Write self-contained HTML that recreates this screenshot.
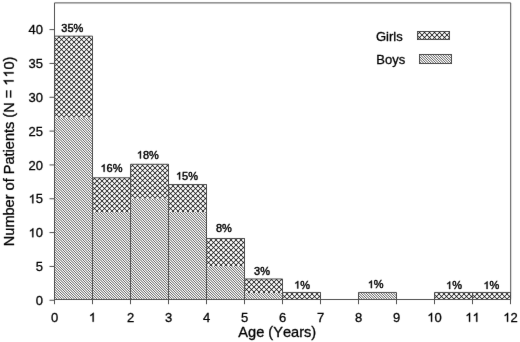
<!DOCTYPE html><html><head><meta charset="utf-8"><style>
html,body{margin:0;padding:0;background:#fff;width:520px;height:342px;overflow:hidden}
svg{display:block}
text{font-family:"Liberation Sans", sans-serif;fill:#000;stroke:#000;stroke-width:0.30px;font-kerning:none}
tspan.h{fill:none;stroke:none}
g.one path{fill:#000;stroke:#000;stroke-width:0.30px;vector-effect:non-scaling-stroke}
</style></head><body>
<svg width="520" height="342" viewBox="0 0 520 342">
<defs>
<pattern id="g0" patternUnits="userSpaceOnUse" width="5" height="5" patternTransform="translate(54,117)"><rect width="5" height="5" fill="#fff"/><rect x="0" y="0" width="1" height="1" fill="#464646"/><rect x="1" y="0" width="1" height="1" fill="#d4d4d4"/><rect x="2" y="0" width="1" height="1" fill="#f8f8f8"/><rect x="3" y="0" width="1" height="1" fill="#d4d4d4"/><rect x="4" y="0" width="1" height="1" fill="#464646"/><rect x="0" y="1" width="1" height="1" fill="#d4d4d4"/><rect x="1" y="1" width="1" height="1" fill="#5a5a5a"/><rect x="2" y="1" width="1" height="1" fill="#afafaf"/><rect x="3" y="1" width="1" height="1" fill="#5a5a5a"/><rect x="4" y="1" width="1" height="1" fill="#d4d4d4"/><rect x="0" y="2" width="1" height="1" fill="#f8f8f8"/><rect x="1" y="2" width="1" height="1" fill="#afafaf"/><rect x="2" y="2" width="1" height="1" fill="#2d2d2d"/><rect x="3" y="2" width="1" height="1" fill="#afafaf"/><rect x="4" y="2" width="1" height="1" fill="#f8f8f8"/><rect x="0" y="3" width="1" height="1" fill="#d4d4d4"/><rect x="1" y="3" width="1" height="1" fill="#5a5a5a"/><rect x="2" y="3" width="1" height="1" fill="#afafaf"/><rect x="3" y="3" width="1" height="1" fill="#5a5a5a"/><rect x="4" y="3" width="1" height="1" fill="#d4d4d4"/><rect x="0" y="4" width="1" height="1" fill="#464646"/><rect x="1" y="4" width="1" height="1" fill="#d4d4d4"/><rect x="2" y="4" width="1" height="1" fill="#f8f8f8"/><rect x="3" y="4" width="1" height="1" fill="#d4d4d4"/><rect x="4" y="4" width="1" height="1" fill="#464646"/></pattern>
<pattern id="b0" patternUnits="userSpaceOnUse" width="5" height="5" patternTransform="translate(0,2)"><rect width="5" height="5" fill="#fff"/><rect x="0" y="0" width="1" height="1" fill="#767676"/><rect x="1" y="0" width="1" height="1" fill="#f2f2f2"/><rect x="2" y="0" width="1" height="1" fill="#acacac"/><rect x="3" y="0" width="1" height="1" fill="#acacac"/><rect x="4" y="0" width="1" height="1" fill="#f2f2f2"/><rect x="0" y="1" width="1" height="1" fill="#f2f2f2"/><rect x="1" y="1" width="1" height="1" fill="#767676"/><rect x="2" y="1" width="1" height="1" fill="#f2f2f2"/><rect x="3" y="1" width="1" height="1" fill="#acacac"/><rect x="4" y="1" width="1" height="1" fill="#acacac"/><rect x="0" y="2" width="1" height="1" fill="#acacac"/><rect x="1" y="2" width="1" height="1" fill="#f2f2f2"/><rect x="2" y="2" width="1" height="1" fill="#767676"/><rect x="3" y="2" width="1" height="1" fill="#f2f2f2"/><rect x="4" y="2" width="1" height="1" fill="#acacac"/><rect x="0" y="3" width="1" height="1" fill="#acacac"/><rect x="1" y="3" width="1" height="1" fill="#acacac"/><rect x="2" y="3" width="1" height="1" fill="#f2f2f2"/><rect x="3" y="3" width="1" height="1" fill="#767676"/><rect x="4" y="3" width="1" height="1" fill="#f2f2f2"/><rect x="0" y="4" width="1" height="1" fill="#f2f2f2"/><rect x="1" y="4" width="1" height="1" fill="#acacac"/><rect x="2" y="4" width="1" height="1" fill="#acacac"/><rect x="3" y="4" width="1" height="1" fill="#f2f2f2"/><rect x="4" y="4" width="1" height="1" fill="#767676"/></pattern>
<pattern id="g1" patternUnits="userSpaceOnUse" width="5" height="5" patternTransform="translate(92,211)"><rect width="5" height="5" fill="#fff"/><rect x="0" y="0" width="1" height="1" fill="#464646"/><rect x="1" y="0" width="1" height="1" fill="#d4d4d4"/><rect x="2" y="0" width="1" height="1" fill="#f8f8f8"/><rect x="3" y="0" width="1" height="1" fill="#d4d4d4"/><rect x="4" y="0" width="1" height="1" fill="#464646"/><rect x="0" y="1" width="1" height="1" fill="#d4d4d4"/><rect x="1" y="1" width="1" height="1" fill="#5a5a5a"/><rect x="2" y="1" width="1" height="1" fill="#afafaf"/><rect x="3" y="1" width="1" height="1" fill="#5a5a5a"/><rect x="4" y="1" width="1" height="1" fill="#d4d4d4"/><rect x="0" y="2" width="1" height="1" fill="#f8f8f8"/><rect x="1" y="2" width="1" height="1" fill="#afafaf"/><rect x="2" y="2" width="1" height="1" fill="#2d2d2d"/><rect x="3" y="2" width="1" height="1" fill="#afafaf"/><rect x="4" y="2" width="1" height="1" fill="#f8f8f8"/><rect x="0" y="3" width="1" height="1" fill="#d4d4d4"/><rect x="1" y="3" width="1" height="1" fill="#5a5a5a"/><rect x="2" y="3" width="1" height="1" fill="#afafaf"/><rect x="3" y="3" width="1" height="1" fill="#5a5a5a"/><rect x="4" y="3" width="1" height="1" fill="#d4d4d4"/><rect x="0" y="4" width="1" height="1" fill="#464646"/><rect x="1" y="4" width="1" height="1" fill="#d4d4d4"/><rect x="2" y="4" width="1" height="1" fill="#f8f8f8"/><rect x="3" y="4" width="1" height="1" fill="#d4d4d4"/><rect x="4" y="4" width="1" height="1" fill="#464646"/></pattern>
<pattern id="b1" patternUnits="userSpaceOnUse" width="5" height="5" patternTransform="translate(0,2)"><rect width="5" height="5" fill="#fff"/><rect x="0" y="0" width="1" height="1" fill="#767676"/><rect x="1" y="0" width="1" height="1" fill="#f2f2f2"/><rect x="2" y="0" width="1" height="1" fill="#acacac"/><rect x="3" y="0" width="1" height="1" fill="#acacac"/><rect x="4" y="0" width="1" height="1" fill="#f2f2f2"/><rect x="0" y="1" width="1" height="1" fill="#f2f2f2"/><rect x="1" y="1" width="1" height="1" fill="#767676"/><rect x="2" y="1" width="1" height="1" fill="#f2f2f2"/><rect x="3" y="1" width="1" height="1" fill="#acacac"/><rect x="4" y="1" width="1" height="1" fill="#acacac"/><rect x="0" y="2" width="1" height="1" fill="#acacac"/><rect x="1" y="2" width="1" height="1" fill="#f2f2f2"/><rect x="2" y="2" width="1" height="1" fill="#767676"/><rect x="3" y="2" width="1" height="1" fill="#f2f2f2"/><rect x="4" y="2" width="1" height="1" fill="#acacac"/><rect x="0" y="3" width="1" height="1" fill="#acacac"/><rect x="1" y="3" width="1" height="1" fill="#acacac"/><rect x="2" y="3" width="1" height="1" fill="#f2f2f2"/><rect x="3" y="3" width="1" height="1" fill="#767676"/><rect x="4" y="3" width="1" height="1" fill="#f2f2f2"/><rect x="0" y="4" width="1" height="1" fill="#f2f2f2"/><rect x="1" y="4" width="1" height="1" fill="#acacac"/><rect x="2" y="4" width="1" height="1" fill="#acacac"/><rect x="3" y="4" width="1" height="1" fill="#f2f2f2"/><rect x="4" y="4" width="1" height="1" fill="#767676"/></pattern>
<pattern id="g2" patternUnits="userSpaceOnUse" width="5" height="5" patternTransform="translate(130,198)"><rect width="5" height="5" fill="#fff"/><rect x="0" y="0" width="1" height="1" fill="#464646"/><rect x="1" y="0" width="1" height="1" fill="#d4d4d4"/><rect x="2" y="0" width="1" height="1" fill="#f8f8f8"/><rect x="3" y="0" width="1" height="1" fill="#d4d4d4"/><rect x="4" y="0" width="1" height="1" fill="#464646"/><rect x="0" y="1" width="1" height="1" fill="#d4d4d4"/><rect x="1" y="1" width="1" height="1" fill="#5a5a5a"/><rect x="2" y="1" width="1" height="1" fill="#afafaf"/><rect x="3" y="1" width="1" height="1" fill="#5a5a5a"/><rect x="4" y="1" width="1" height="1" fill="#d4d4d4"/><rect x="0" y="2" width="1" height="1" fill="#f8f8f8"/><rect x="1" y="2" width="1" height="1" fill="#afafaf"/><rect x="2" y="2" width="1" height="1" fill="#2d2d2d"/><rect x="3" y="2" width="1" height="1" fill="#afafaf"/><rect x="4" y="2" width="1" height="1" fill="#f8f8f8"/><rect x="0" y="3" width="1" height="1" fill="#d4d4d4"/><rect x="1" y="3" width="1" height="1" fill="#5a5a5a"/><rect x="2" y="3" width="1" height="1" fill="#afafaf"/><rect x="3" y="3" width="1" height="1" fill="#5a5a5a"/><rect x="4" y="3" width="1" height="1" fill="#d4d4d4"/><rect x="0" y="4" width="1" height="1" fill="#464646"/><rect x="1" y="4" width="1" height="1" fill="#d4d4d4"/><rect x="2" y="4" width="1" height="1" fill="#f8f8f8"/><rect x="3" y="4" width="1" height="1" fill="#d4d4d4"/><rect x="4" y="4" width="1" height="1" fill="#464646"/></pattern>
<pattern id="b2" patternUnits="userSpaceOnUse" width="5" height="5" patternTransform="translate(0,2)"><rect width="5" height="5" fill="#fff"/><rect x="0" y="0" width="1" height="1" fill="#767676"/><rect x="1" y="0" width="1" height="1" fill="#f2f2f2"/><rect x="2" y="0" width="1" height="1" fill="#acacac"/><rect x="3" y="0" width="1" height="1" fill="#acacac"/><rect x="4" y="0" width="1" height="1" fill="#f2f2f2"/><rect x="0" y="1" width="1" height="1" fill="#f2f2f2"/><rect x="1" y="1" width="1" height="1" fill="#767676"/><rect x="2" y="1" width="1" height="1" fill="#f2f2f2"/><rect x="3" y="1" width="1" height="1" fill="#acacac"/><rect x="4" y="1" width="1" height="1" fill="#acacac"/><rect x="0" y="2" width="1" height="1" fill="#acacac"/><rect x="1" y="2" width="1" height="1" fill="#f2f2f2"/><rect x="2" y="2" width="1" height="1" fill="#767676"/><rect x="3" y="2" width="1" height="1" fill="#f2f2f2"/><rect x="4" y="2" width="1" height="1" fill="#acacac"/><rect x="0" y="3" width="1" height="1" fill="#acacac"/><rect x="1" y="3" width="1" height="1" fill="#acacac"/><rect x="2" y="3" width="1" height="1" fill="#f2f2f2"/><rect x="3" y="3" width="1" height="1" fill="#767676"/><rect x="4" y="3" width="1" height="1" fill="#f2f2f2"/><rect x="0" y="4" width="1" height="1" fill="#f2f2f2"/><rect x="1" y="4" width="1" height="1" fill="#acacac"/><rect x="2" y="4" width="1" height="1" fill="#acacac"/><rect x="3" y="4" width="1" height="1" fill="#f2f2f2"/><rect x="4" y="4" width="1" height="1" fill="#767676"/></pattern>
<pattern id="g3" patternUnits="userSpaceOnUse" width="5" height="5" patternTransform="translate(168,211)"><rect width="5" height="5" fill="#fff"/><rect x="0" y="0" width="1" height="1" fill="#464646"/><rect x="1" y="0" width="1" height="1" fill="#d4d4d4"/><rect x="2" y="0" width="1" height="1" fill="#f8f8f8"/><rect x="3" y="0" width="1" height="1" fill="#d4d4d4"/><rect x="4" y="0" width="1" height="1" fill="#464646"/><rect x="0" y="1" width="1" height="1" fill="#d4d4d4"/><rect x="1" y="1" width="1" height="1" fill="#5a5a5a"/><rect x="2" y="1" width="1" height="1" fill="#afafaf"/><rect x="3" y="1" width="1" height="1" fill="#5a5a5a"/><rect x="4" y="1" width="1" height="1" fill="#d4d4d4"/><rect x="0" y="2" width="1" height="1" fill="#f8f8f8"/><rect x="1" y="2" width="1" height="1" fill="#afafaf"/><rect x="2" y="2" width="1" height="1" fill="#2d2d2d"/><rect x="3" y="2" width="1" height="1" fill="#afafaf"/><rect x="4" y="2" width="1" height="1" fill="#f8f8f8"/><rect x="0" y="3" width="1" height="1" fill="#d4d4d4"/><rect x="1" y="3" width="1" height="1" fill="#5a5a5a"/><rect x="2" y="3" width="1" height="1" fill="#afafaf"/><rect x="3" y="3" width="1" height="1" fill="#5a5a5a"/><rect x="4" y="3" width="1" height="1" fill="#d4d4d4"/><rect x="0" y="4" width="1" height="1" fill="#464646"/><rect x="1" y="4" width="1" height="1" fill="#d4d4d4"/><rect x="2" y="4" width="1" height="1" fill="#f8f8f8"/><rect x="3" y="4" width="1" height="1" fill="#d4d4d4"/><rect x="4" y="4" width="1" height="1" fill="#464646"/></pattern>
<pattern id="b3" patternUnits="userSpaceOnUse" width="5" height="5" patternTransform="translate(0,2)"><rect width="5" height="5" fill="#fff"/><rect x="0" y="0" width="1" height="1" fill="#767676"/><rect x="1" y="0" width="1" height="1" fill="#f2f2f2"/><rect x="2" y="0" width="1" height="1" fill="#acacac"/><rect x="3" y="0" width="1" height="1" fill="#acacac"/><rect x="4" y="0" width="1" height="1" fill="#f2f2f2"/><rect x="0" y="1" width="1" height="1" fill="#f2f2f2"/><rect x="1" y="1" width="1" height="1" fill="#767676"/><rect x="2" y="1" width="1" height="1" fill="#f2f2f2"/><rect x="3" y="1" width="1" height="1" fill="#acacac"/><rect x="4" y="1" width="1" height="1" fill="#acacac"/><rect x="0" y="2" width="1" height="1" fill="#acacac"/><rect x="1" y="2" width="1" height="1" fill="#f2f2f2"/><rect x="2" y="2" width="1" height="1" fill="#767676"/><rect x="3" y="2" width="1" height="1" fill="#f2f2f2"/><rect x="4" y="2" width="1" height="1" fill="#acacac"/><rect x="0" y="3" width="1" height="1" fill="#acacac"/><rect x="1" y="3" width="1" height="1" fill="#acacac"/><rect x="2" y="3" width="1" height="1" fill="#f2f2f2"/><rect x="3" y="3" width="1" height="1" fill="#767676"/><rect x="4" y="3" width="1" height="1" fill="#f2f2f2"/><rect x="0" y="4" width="1" height="1" fill="#f2f2f2"/><rect x="1" y="4" width="1" height="1" fill="#acacac"/><rect x="2" y="4" width="1" height="1" fill="#acacac"/><rect x="3" y="4" width="1" height="1" fill="#f2f2f2"/><rect x="4" y="4" width="1" height="1" fill="#767676"/></pattern>
<pattern id="g4" patternUnits="userSpaceOnUse" width="5" height="5" patternTransform="translate(206,265)"><rect width="5" height="5" fill="#fff"/><rect x="0" y="0" width="1" height="1" fill="#464646"/><rect x="1" y="0" width="1" height="1" fill="#d4d4d4"/><rect x="2" y="0" width="1" height="1" fill="#f8f8f8"/><rect x="3" y="0" width="1" height="1" fill="#d4d4d4"/><rect x="4" y="0" width="1" height="1" fill="#464646"/><rect x="0" y="1" width="1" height="1" fill="#d4d4d4"/><rect x="1" y="1" width="1" height="1" fill="#5a5a5a"/><rect x="2" y="1" width="1" height="1" fill="#afafaf"/><rect x="3" y="1" width="1" height="1" fill="#5a5a5a"/><rect x="4" y="1" width="1" height="1" fill="#d4d4d4"/><rect x="0" y="2" width="1" height="1" fill="#f8f8f8"/><rect x="1" y="2" width="1" height="1" fill="#afafaf"/><rect x="2" y="2" width="1" height="1" fill="#2d2d2d"/><rect x="3" y="2" width="1" height="1" fill="#afafaf"/><rect x="4" y="2" width="1" height="1" fill="#f8f8f8"/><rect x="0" y="3" width="1" height="1" fill="#d4d4d4"/><rect x="1" y="3" width="1" height="1" fill="#5a5a5a"/><rect x="2" y="3" width="1" height="1" fill="#afafaf"/><rect x="3" y="3" width="1" height="1" fill="#5a5a5a"/><rect x="4" y="3" width="1" height="1" fill="#d4d4d4"/><rect x="0" y="4" width="1" height="1" fill="#464646"/><rect x="1" y="4" width="1" height="1" fill="#d4d4d4"/><rect x="2" y="4" width="1" height="1" fill="#f8f8f8"/><rect x="3" y="4" width="1" height="1" fill="#d4d4d4"/><rect x="4" y="4" width="1" height="1" fill="#464646"/></pattern>
<pattern id="b4" patternUnits="userSpaceOnUse" width="5" height="5" patternTransform="translate(0,2)"><rect width="5" height="5" fill="#fff"/><rect x="0" y="0" width="1" height="1" fill="#767676"/><rect x="1" y="0" width="1" height="1" fill="#f2f2f2"/><rect x="2" y="0" width="1" height="1" fill="#acacac"/><rect x="3" y="0" width="1" height="1" fill="#acacac"/><rect x="4" y="0" width="1" height="1" fill="#f2f2f2"/><rect x="0" y="1" width="1" height="1" fill="#f2f2f2"/><rect x="1" y="1" width="1" height="1" fill="#767676"/><rect x="2" y="1" width="1" height="1" fill="#f2f2f2"/><rect x="3" y="1" width="1" height="1" fill="#acacac"/><rect x="4" y="1" width="1" height="1" fill="#acacac"/><rect x="0" y="2" width="1" height="1" fill="#acacac"/><rect x="1" y="2" width="1" height="1" fill="#f2f2f2"/><rect x="2" y="2" width="1" height="1" fill="#767676"/><rect x="3" y="2" width="1" height="1" fill="#f2f2f2"/><rect x="4" y="2" width="1" height="1" fill="#acacac"/><rect x="0" y="3" width="1" height="1" fill="#acacac"/><rect x="1" y="3" width="1" height="1" fill="#acacac"/><rect x="2" y="3" width="1" height="1" fill="#f2f2f2"/><rect x="3" y="3" width="1" height="1" fill="#767676"/><rect x="4" y="3" width="1" height="1" fill="#f2f2f2"/><rect x="0" y="4" width="1" height="1" fill="#f2f2f2"/><rect x="1" y="4" width="1" height="1" fill="#acacac"/><rect x="2" y="4" width="1" height="1" fill="#acacac"/><rect x="3" y="4" width="1" height="1" fill="#f2f2f2"/><rect x="4" y="4" width="1" height="1" fill="#767676"/></pattern>
<pattern id="g5" patternUnits="userSpaceOnUse" width="5" height="5" patternTransform="translate(244,292)"><rect width="5" height="5" fill="#fff"/><rect x="0" y="0" width="1" height="1" fill="#464646"/><rect x="1" y="0" width="1" height="1" fill="#d4d4d4"/><rect x="2" y="0" width="1" height="1" fill="#f8f8f8"/><rect x="3" y="0" width="1" height="1" fill="#d4d4d4"/><rect x="4" y="0" width="1" height="1" fill="#464646"/><rect x="0" y="1" width="1" height="1" fill="#d4d4d4"/><rect x="1" y="1" width="1" height="1" fill="#5a5a5a"/><rect x="2" y="1" width="1" height="1" fill="#afafaf"/><rect x="3" y="1" width="1" height="1" fill="#5a5a5a"/><rect x="4" y="1" width="1" height="1" fill="#d4d4d4"/><rect x="0" y="2" width="1" height="1" fill="#f8f8f8"/><rect x="1" y="2" width="1" height="1" fill="#afafaf"/><rect x="2" y="2" width="1" height="1" fill="#2d2d2d"/><rect x="3" y="2" width="1" height="1" fill="#afafaf"/><rect x="4" y="2" width="1" height="1" fill="#f8f8f8"/><rect x="0" y="3" width="1" height="1" fill="#d4d4d4"/><rect x="1" y="3" width="1" height="1" fill="#5a5a5a"/><rect x="2" y="3" width="1" height="1" fill="#afafaf"/><rect x="3" y="3" width="1" height="1" fill="#5a5a5a"/><rect x="4" y="3" width="1" height="1" fill="#d4d4d4"/><rect x="0" y="4" width="1" height="1" fill="#464646"/><rect x="1" y="4" width="1" height="1" fill="#d4d4d4"/><rect x="2" y="4" width="1" height="1" fill="#f8f8f8"/><rect x="3" y="4" width="1" height="1" fill="#d4d4d4"/><rect x="4" y="4" width="1" height="1" fill="#464646"/></pattern>
<pattern id="b5" patternUnits="userSpaceOnUse" width="5" height="5" patternTransform="translate(0,2)"><rect width="5" height="5" fill="#fff"/><rect x="0" y="0" width="1" height="1" fill="#767676"/><rect x="1" y="0" width="1" height="1" fill="#f2f2f2"/><rect x="2" y="0" width="1" height="1" fill="#acacac"/><rect x="3" y="0" width="1" height="1" fill="#acacac"/><rect x="4" y="0" width="1" height="1" fill="#f2f2f2"/><rect x="0" y="1" width="1" height="1" fill="#f2f2f2"/><rect x="1" y="1" width="1" height="1" fill="#767676"/><rect x="2" y="1" width="1" height="1" fill="#f2f2f2"/><rect x="3" y="1" width="1" height="1" fill="#acacac"/><rect x="4" y="1" width="1" height="1" fill="#acacac"/><rect x="0" y="2" width="1" height="1" fill="#acacac"/><rect x="1" y="2" width="1" height="1" fill="#f2f2f2"/><rect x="2" y="2" width="1" height="1" fill="#767676"/><rect x="3" y="2" width="1" height="1" fill="#f2f2f2"/><rect x="4" y="2" width="1" height="1" fill="#acacac"/><rect x="0" y="3" width="1" height="1" fill="#acacac"/><rect x="1" y="3" width="1" height="1" fill="#acacac"/><rect x="2" y="3" width="1" height="1" fill="#f2f2f2"/><rect x="3" y="3" width="1" height="1" fill="#767676"/><rect x="4" y="3" width="1" height="1" fill="#f2f2f2"/><rect x="0" y="4" width="1" height="1" fill="#f2f2f2"/><rect x="1" y="4" width="1" height="1" fill="#acacac"/><rect x="2" y="4" width="1" height="1" fill="#acacac"/><rect x="3" y="4" width="1" height="1" fill="#f2f2f2"/><rect x="4" y="4" width="1" height="1" fill="#767676"/></pattern>
<pattern id="g6" patternUnits="userSpaceOnUse" width="5" height="5" patternTransform="translate(282,299)"><rect width="5" height="5" fill="#fff"/><rect x="0" y="0" width="1" height="1" fill="#464646"/><rect x="1" y="0" width="1" height="1" fill="#d4d4d4"/><rect x="2" y="0" width="1" height="1" fill="#f8f8f8"/><rect x="3" y="0" width="1" height="1" fill="#d4d4d4"/><rect x="4" y="0" width="1" height="1" fill="#464646"/><rect x="0" y="1" width="1" height="1" fill="#d4d4d4"/><rect x="1" y="1" width="1" height="1" fill="#5a5a5a"/><rect x="2" y="1" width="1" height="1" fill="#afafaf"/><rect x="3" y="1" width="1" height="1" fill="#5a5a5a"/><rect x="4" y="1" width="1" height="1" fill="#d4d4d4"/><rect x="0" y="2" width="1" height="1" fill="#f8f8f8"/><rect x="1" y="2" width="1" height="1" fill="#afafaf"/><rect x="2" y="2" width="1" height="1" fill="#2d2d2d"/><rect x="3" y="2" width="1" height="1" fill="#afafaf"/><rect x="4" y="2" width="1" height="1" fill="#f8f8f8"/><rect x="0" y="3" width="1" height="1" fill="#d4d4d4"/><rect x="1" y="3" width="1" height="1" fill="#5a5a5a"/><rect x="2" y="3" width="1" height="1" fill="#afafaf"/><rect x="3" y="3" width="1" height="1" fill="#5a5a5a"/><rect x="4" y="3" width="1" height="1" fill="#d4d4d4"/><rect x="0" y="4" width="1" height="1" fill="#464646"/><rect x="1" y="4" width="1" height="1" fill="#d4d4d4"/><rect x="2" y="4" width="1" height="1" fill="#f8f8f8"/><rect x="3" y="4" width="1" height="1" fill="#d4d4d4"/><rect x="4" y="4" width="1" height="1" fill="#464646"/></pattern>
<pattern id="b7" patternUnits="userSpaceOnUse" width="5" height="5" patternTransform="translate(0,2)"><rect width="5" height="5" fill="#fff"/><rect x="0" y="0" width="1" height="1" fill="#767676"/><rect x="1" y="0" width="1" height="1" fill="#f2f2f2"/><rect x="2" y="0" width="1" height="1" fill="#acacac"/><rect x="3" y="0" width="1" height="1" fill="#acacac"/><rect x="4" y="0" width="1" height="1" fill="#f2f2f2"/><rect x="0" y="1" width="1" height="1" fill="#f2f2f2"/><rect x="1" y="1" width="1" height="1" fill="#767676"/><rect x="2" y="1" width="1" height="1" fill="#f2f2f2"/><rect x="3" y="1" width="1" height="1" fill="#acacac"/><rect x="4" y="1" width="1" height="1" fill="#acacac"/><rect x="0" y="2" width="1" height="1" fill="#acacac"/><rect x="1" y="2" width="1" height="1" fill="#f2f2f2"/><rect x="2" y="2" width="1" height="1" fill="#767676"/><rect x="3" y="2" width="1" height="1" fill="#f2f2f2"/><rect x="4" y="2" width="1" height="1" fill="#acacac"/><rect x="0" y="3" width="1" height="1" fill="#acacac"/><rect x="1" y="3" width="1" height="1" fill="#acacac"/><rect x="2" y="3" width="1" height="1" fill="#f2f2f2"/><rect x="3" y="3" width="1" height="1" fill="#767676"/><rect x="4" y="3" width="1" height="1" fill="#f2f2f2"/><rect x="0" y="4" width="1" height="1" fill="#f2f2f2"/><rect x="1" y="4" width="1" height="1" fill="#acacac"/><rect x="2" y="4" width="1" height="1" fill="#acacac"/><rect x="3" y="4" width="1" height="1" fill="#f2f2f2"/><rect x="4" y="4" width="1" height="1" fill="#767676"/></pattern>
<pattern id="g8" patternUnits="userSpaceOnUse" width="5" height="5" patternTransform="translate(434,299)"><rect width="5" height="5" fill="#fff"/><rect x="0" y="0" width="1" height="1" fill="#464646"/><rect x="1" y="0" width="1" height="1" fill="#d4d4d4"/><rect x="2" y="0" width="1" height="1" fill="#f8f8f8"/><rect x="3" y="0" width="1" height="1" fill="#d4d4d4"/><rect x="4" y="0" width="1" height="1" fill="#464646"/><rect x="0" y="1" width="1" height="1" fill="#d4d4d4"/><rect x="1" y="1" width="1" height="1" fill="#5a5a5a"/><rect x="2" y="1" width="1" height="1" fill="#afafaf"/><rect x="3" y="1" width="1" height="1" fill="#5a5a5a"/><rect x="4" y="1" width="1" height="1" fill="#d4d4d4"/><rect x="0" y="2" width="1" height="1" fill="#f8f8f8"/><rect x="1" y="2" width="1" height="1" fill="#afafaf"/><rect x="2" y="2" width="1" height="1" fill="#2d2d2d"/><rect x="3" y="2" width="1" height="1" fill="#afafaf"/><rect x="4" y="2" width="1" height="1" fill="#f8f8f8"/><rect x="0" y="3" width="1" height="1" fill="#d4d4d4"/><rect x="1" y="3" width="1" height="1" fill="#5a5a5a"/><rect x="2" y="3" width="1" height="1" fill="#afafaf"/><rect x="3" y="3" width="1" height="1" fill="#5a5a5a"/><rect x="4" y="3" width="1" height="1" fill="#d4d4d4"/><rect x="0" y="4" width="1" height="1" fill="#464646"/><rect x="1" y="4" width="1" height="1" fill="#d4d4d4"/><rect x="2" y="4" width="1" height="1" fill="#f8f8f8"/><rect x="3" y="4" width="1" height="1" fill="#d4d4d4"/><rect x="4" y="4" width="1" height="1" fill="#464646"/></pattern>
<pattern id="g9" patternUnits="userSpaceOnUse" width="5" height="5" patternTransform="translate(472,299)"><rect width="5" height="5" fill="#fff"/><rect x="0" y="0" width="1" height="1" fill="#464646"/><rect x="1" y="0" width="1" height="1" fill="#d4d4d4"/><rect x="2" y="0" width="1" height="1" fill="#f8f8f8"/><rect x="3" y="0" width="1" height="1" fill="#d4d4d4"/><rect x="4" y="0" width="1" height="1" fill="#464646"/><rect x="0" y="1" width="1" height="1" fill="#d4d4d4"/><rect x="1" y="1" width="1" height="1" fill="#5a5a5a"/><rect x="2" y="1" width="1" height="1" fill="#afafaf"/><rect x="3" y="1" width="1" height="1" fill="#5a5a5a"/><rect x="4" y="1" width="1" height="1" fill="#d4d4d4"/><rect x="0" y="2" width="1" height="1" fill="#f8f8f8"/><rect x="1" y="2" width="1" height="1" fill="#afafaf"/><rect x="2" y="2" width="1" height="1" fill="#2d2d2d"/><rect x="3" y="2" width="1" height="1" fill="#afafaf"/><rect x="4" y="2" width="1" height="1" fill="#f8f8f8"/><rect x="0" y="3" width="1" height="1" fill="#d4d4d4"/><rect x="1" y="3" width="1" height="1" fill="#5a5a5a"/><rect x="2" y="3" width="1" height="1" fill="#afafaf"/><rect x="3" y="3" width="1" height="1" fill="#5a5a5a"/><rect x="4" y="3" width="1" height="1" fill="#d4d4d4"/><rect x="0" y="4" width="1" height="1" fill="#464646"/><rect x="1" y="4" width="1" height="1" fill="#d4d4d4"/><rect x="2" y="4" width="1" height="1" fill="#f8f8f8"/><rect x="3" y="4" width="1" height="1" fill="#d4d4d4"/><rect x="4" y="4" width="1" height="1" fill="#464646"/></pattern>
<pattern id="gl" patternUnits="userSpaceOnUse" width="5" height="5" patternTransform="translate(417,40)"><rect width="5" height="5" fill="#fff"/><rect x="0" y="0" width="1" height="1" fill="#464646"/><rect x="1" y="0" width="1" height="1" fill="#d4d4d4"/><rect x="2" y="0" width="1" height="1" fill="#f8f8f8"/><rect x="3" y="0" width="1" height="1" fill="#d4d4d4"/><rect x="4" y="0" width="1" height="1" fill="#464646"/><rect x="0" y="1" width="1" height="1" fill="#d4d4d4"/><rect x="1" y="1" width="1" height="1" fill="#5a5a5a"/><rect x="2" y="1" width="1" height="1" fill="#afafaf"/><rect x="3" y="1" width="1" height="1" fill="#5a5a5a"/><rect x="4" y="1" width="1" height="1" fill="#d4d4d4"/><rect x="0" y="2" width="1" height="1" fill="#f8f8f8"/><rect x="1" y="2" width="1" height="1" fill="#afafaf"/><rect x="2" y="2" width="1" height="1" fill="#2d2d2d"/><rect x="3" y="2" width="1" height="1" fill="#afafaf"/><rect x="4" y="2" width="1" height="1" fill="#f8f8f8"/><rect x="0" y="3" width="1" height="1" fill="#d4d4d4"/><rect x="1" y="3" width="1" height="1" fill="#5a5a5a"/><rect x="2" y="3" width="1" height="1" fill="#afafaf"/><rect x="3" y="3" width="1" height="1" fill="#5a5a5a"/><rect x="4" y="3" width="1" height="1" fill="#d4d4d4"/><rect x="0" y="4" width="1" height="1" fill="#464646"/><rect x="1" y="4" width="1" height="1" fill="#d4d4d4"/><rect x="2" y="4" width="1" height="1" fill="#f8f8f8"/><rect x="3" y="4" width="1" height="1" fill="#d4d4d4"/><rect x="4" y="4" width="1" height="1" fill="#464646"/></pattern>
<pattern id="bl" patternUnits="userSpaceOnUse" width="5" height="5" patternTransform="translate(0,2)"><rect width="5" height="5" fill="#fff"/><rect x="0" y="0" width="1" height="1" fill="#767676"/><rect x="1" y="0" width="1" height="1" fill="#f2f2f2"/><rect x="2" y="0" width="1" height="1" fill="#acacac"/><rect x="3" y="0" width="1" height="1" fill="#acacac"/><rect x="4" y="0" width="1" height="1" fill="#f2f2f2"/><rect x="0" y="1" width="1" height="1" fill="#f2f2f2"/><rect x="1" y="1" width="1" height="1" fill="#767676"/><rect x="2" y="1" width="1" height="1" fill="#f2f2f2"/><rect x="3" y="1" width="1" height="1" fill="#acacac"/><rect x="4" y="1" width="1" height="1" fill="#acacac"/><rect x="0" y="2" width="1" height="1" fill="#acacac"/><rect x="1" y="2" width="1" height="1" fill="#f2f2f2"/><rect x="2" y="2" width="1" height="1" fill="#767676"/><rect x="3" y="2" width="1" height="1" fill="#f2f2f2"/><rect x="4" y="2" width="1" height="1" fill="#acacac"/><rect x="0" y="3" width="1" height="1" fill="#acacac"/><rect x="1" y="3" width="1" height="1" fill="#acacac"/><rect x="2" y="3" width="1" height="1" fill="#f2f2f2"/><rect x="3" y="3" width="1" height="1" fill="#767676"/><rect x="4" y="3" width="1" height="1" fill="#f2f2f2"/><rect x="0" y="4" width="1" height="1" fill="#f2f2f2"/><rect x="1" y="4" width="1" height="1" fill="#acacac"/><rect x="2" y="4" width="1" height="1" fill="#acacac"/><rect x="3" y="4" width="1" height="1" fill="#f2f2f2"/><rect x="4" y="4" width="1" height="1" fill="#767676"/></pattern>
<filter id="blur" x="0" y="0" width="520" height="342" filterUnits="userSpaceOnUse"><feConvolveMatrix order="3" kernelMatrix="0.0028 0.0470 0.0028 0.0470 0.8008 0.0470 0.0028 0.0470 0.0028" divisor="1" edgeMode="duplicate" preserveAlpha="false"/></filter>
</defs>
<rect width="520" height="342" fill="#fff"/>
<rect x="54.00" y="117.47" width="39.00" height="182.03" fill="url(#b0)"/>
<rect x="54.00" y="36.11" width="39.00" height="81.36" fill="url(#g0)"/>
<rect x="92.00" y="211.99" width="39.00" height="87.51" fill="url(#b1)"/>
<rect x="92.00" y="177.77" width="39.00" height="34.22" fill="url(#g1)"/>
<rect x="130.00" y="198.49" width="39.00" height="101.01" fill="url(#b2)"/>
<rect x="130.00" y="164.28" width="39.00" height="34.21" fill="url(#g2)"/>
<rect x="168.00" y="211.99" width="39.00" height="87.51" fill="url(#b3)"/>
<rect x="168.00" y="184.52" width="39.00" height="27.48" fill="url(#g3)"/>
<rect x="206.00" y="266.01" width="39.00" height="33.49" fill="url(#b4)"/>
<rect x="206.00" y="238.49" width="39.00" height="27.52" fill="url(#g4)"/>
<rect x="244.00" y="293.02" width="39.00" height="6.48" fill="url(#b5)"/>
<rect x="244.00" y="278.96" width="39.00" height="14.06" fill="url(#g5)"/>
<rect x="282.00" y="292.45" width="39.00" height="7.05" fill="url(#g6)"/>
<rect x="358.00" y="292.45" width="39.00" height="7.05" fill="url(#b7)"/>
<rect x="434.00" y="292.45" width="39.00" height="7.05" fill="url(#g8)"/>
<rect x="472.00" y="292.45" width="39.00" height="7.05" fill="url(#g9)"/>
<rect x="417" y="31" width="33" height="9" fill="url(#gl)"/>
<rect x="419" y="54" width="33" height="10" fill="url(#bl)"/>
<g filter="url(#blur)">
<path d="M54.50,300V36.11H92.50V300" fill="none" stroke="#505050" stroke-width="1"/>
<path d="M92.50,300V177.77H130.50V300" fill="none" stroke="#505050" stroke-width="1"/>
<path d="M130.50,300V164.28H168.50V300" fill="none" stroke="#505050" stroke-width="1"/>
<path d="M168.50,300V184.52H206.50V300" fill="none" stroke="#505050" stroke-width="1"/>
<path d="M206.50,300V238.49H244.50V300" fill="none" stroke="#505050" stroke-width="1"/>
<path d="M244.50,300V278.96H282.50V300" fill="none" stroke="#505050" stroke-width="1"/>
<path d="M282.50,300V292.45H320.50V300" fill="none" stroke="#505050" stroke-width="1"/>
<path d="M358.50,300V292.45H396.50V300" fill="none" stroke="#505050" stroke-width="1"/>
<path d="M434.50,300V292.45H472.50V300" fill="none" stroke="#505050" stroke-width="1"/>
<path d="M472.50,300V292.45H510.50V300" fill="none" stroke="#505050" stroke-width="1"/>
<text x="72.30" y="31.80" font-size="11" text-anchor="middle" style="stroke-width:0.42px">35%</text>
<text x="111.50" y="171.80" font-size="11" text-anchor="middle" style="stroke-width:0.42px"><tspan class="h">1</tspan>6%</text>
<g class="one"><path transform="translate(100.484,171.800) scale(0.00537,-0.00537)" style="stroke-width:0.42px" d="M763,0L583,0L583,1102C525,1049 455,999 375,958C310,924 260,905 223,895L223,1062C300,1097 390,1152 470,1217C560,1290 630,1357 661,1409L763,1409Z"/></g>
<text x="147.80" y="158.50" font-size="11" text-anchor="middle" style="stroke-width:0.42px"><tspan class="h">1</tspan>8%</text>
<g class="one"><path transform="translate(136.784,158.500) scale(0.00537,-0.00537)" style="stroke-width:0.42px" d="M763,0L583,0L583,1102C525,1049 455,999 375,958C310,924 260,905 223,895L223,1062C300,1097 390,1152 470,1217C560,1290 630,1357 661,1409L763,1409Z"/></g>
<text x="187.00" y="179.60" font-size="11" text-anchor="middle" style="stroke-width:0.42px"><tspan class="h">1</tspan>5%</text>
<g class="one"><path transform="translate(175.984,179.600) scale(0.00537,-0.00537)" style="stroke-width:0.42px" d="M763,0L583,0L583,1102C525,1049 455,999 375,958C310,924 260,905 223,895L223,1062C300,1097 390,1152 470,1217C560,1290 630,1357 661,1409L763,1409Z"/></g>
<text x="223.90" y="231.80" font-size="11" text-anchor="middle" style="stroke-width:0.42px">8%</text>
<text x="262.00" y="274.70" font-size="11" text-anchor="middle" style="stroke-width:0.42px">3%</text>
<text x="302.10" y="288.50" font-size="11" text-anchor="middle" style="stroke-width:0.42px"><tspan class="h">1</tspan>%</text>
<g class="one"><path transform="translate(294.147,288.500) scale(0.00537,-0.00537)" style="stroke-width:0.42px" d="M763,0L583,0L583,1102C525,1049 455,999 375,958C310,924 260,905 223,895L223,1062C300,1097 390,1152 470,1217C560,1290 630,1357 661,1409L763,1409Z"/></g>
<text x="375.70" y="288.10" font-size="11" text-anchor="middle" style="stroke-width:0.42px"><tspan class="h">1</tspan>%</text>
<g class="one"><path transform="translate(367.747,288.100) scale(0.00537,-0.00537)" style="stroke-width:0.42px" d="M763,0L583,0L583,1102C525,1049 455,999 375,958C310,924 260,905 223,895L223,1062C300,1097 390,1152 470,1217C560,1290 630,1357 661,1409L763,1409Z"/></g>
<text x="454.00" y="289.00" font-size="11" text-anchor="middle" style="stroke-width:0.42px"><tspan class="h">1</tspan>%</text>
<g class="one"><path transform="translate(446.047,289.000) scale(0.00537,-0.00537)" style="stroke-width:0.42px" d="M763,0L583,0L583,1102C525,1049 455,999 375,958C310,924 260,905 223,895L223,1062C300,1097 390,1152 470,1217C560,1290 630,1357 661,1409L763,1409Z"/></g>
<text x="491.40" y="289.00" font-size="11" text-anchor="middle" style="stroke-width:0.42px"><tspan class="h">1</tspan>%</text>
<g class="one"><path transform="translate(483.447,289.000) scale(0.00537,-0.00537)" style="stroke-width:0.42px" d="M763,0L583,0L583,1102C525,1049 455,999 375,958C310,924 260,905 223,895L223,1062C300,1097 390,1152 470,1217C560,1290 630,1357 661,1409L763,1409Z"/></g>
<path d="M54.5,299.5V2.9H510.7V299.5H54.5" fill="none" stroke="#505050" stroke-width="1"/>
<line x1="49.5" y1="300.25" x2="54.5" y2="300.25" stroke="#505050" stroke-width="1"/>
<text x="43" y="304.85" font-size="13" text-anchor="end">0</text>
<line x1="49.5" y1="266.42" x2="54.5" y2="266.42" stroke="#505050" stroke-width="1"/>
<text x="43" y="271.02" font-size="13" text-anchor="end">5</text>
<line x1="49.5" y1="232.59" x2="54.5" y2="232.59" stroke="#505050" stroke-width="1"/>
<text x="43" y="237.19" font-size="13" text-anchor="end"><tspan class="h">1</tspan>0</text>
<g class="one"><path transform="translate(28.531,237.190) scale(0.00635,-0.00635)" d="M763,0L583,0L583,1102C525,1049 455,999 375,958C310,924 260,905 223,895L223,1062C300,1097 390,1152 470,1217C560,1290 630,1357 661,1409L763,1409Z"/></g>
<line x1="49.5" y1="198.76" x2="54.5" y2="198.76" stroke="#505050" stroke-width="1"/>
<text x="43" y="203.36" font-size="13" text-anchor="end"><tspan class="h">1</tspan>5</text>
<g class="one"><path transform="translate(28.531,203.360) scale(0.00635,-0.00635)" d="M763,0L583,0L583,1102C525,1049 455,999 375,958C310,924 260,905 223,895L223,1062C300,1097 390,1152 470,1217C560,1290 630,1357 661,1409L763,1409Z"/></g>
<line x1="49.5" y1="164.93" x2="54.5" y2="164.93" stroke="#505050" stroke-width="1"/>
<text x="43" y="169.53" font-size="13" text-anchor="end">20</text>
<line x1="49.5" y1="131.10" x2="54.5" y2="131.10" stroke="#505050" stroke-width="1"/>
<text x="43" y="135.70" font-size="13" text-anchor="end">25</text>
<line x1="49.5" y1="97.27" x2="54.5" y2="97.27" stroke="#505050" stroke-width="1"/>
<text x="43" y="101.87" font-size="13" text-anchor="end">30</text>
<line x1="49.5" y1="63.44" x2="54.5" y2="63.44" stroke="#505050" stroke-width="1"/>
<text x="43" y="68.04" font-size="13" text-anchor="end">35</text>
<line x1="49.5" y1="29.61" x2="54.5" y2="29.61" stroke="#505050" stroke-width="1"/>
<text x="43" y="34.21" font-size="13" text-anchor="end">40</text>
<line x1="54.50" y1="299.5" x2="54.50" y2="304.2" stroke="#505050" stroke-width="1"/>
<text x="54.50" y="321.8" font-size="13" text-anchor="middle">0</text>
<line x1="92.50" y1="299.5" x2="92.50" y2="304.2" stroke="#505050" stroke-width="1"/>
<text x="92.50" y="321.8" font-size="13" text-anchor="middle"><tspan class="h">1</tspan></text>
<g class="one"><path transform="translate(88.883,321.800) scale(0.00635,-0.00635)" d="M763,0L583,0L583,1102C525,1049 455,999 375,958C310,924 260,905 223,895L223,1062C300,1097 390,1152 470,1217C560,1290 630,1357 661,1409L763,1409Z"/></g>
<line x1="130.50" y1="299.5" x2="130.50" y2="304.2" stroke="#505050" stroke-width="1"/>
<text x="130.50" y="321.8" font-size="13" text-anchor="middle">2</text>
<line x1="168.50" y1="299.5" x2="168.50" y2="304.2" stroke="#505050" stroke-width="1"/>
<text x="168.50" y="321.8" font-size="13" text-anchor="middle">3</text>
<line x1="206.50" y1="299.5" x2="206.50" y2="304.2" stroke="#505050" stroke-width="1"/>
<text x="206.50" y="321.8" font-size="13" text-anchor="middle">4</text>
<line x1="244.50" y1="299.5" x2="244.50" y2="304.2" stroke="#505050" stroke-width="1"/>
<text x="244.50" y="321.8" font-size="13" text-anchor="middle">5</text>
<line x1="282.50" y1="299.5" x2="282.50" y2="304.2" stroke="#505050" stroke-width="1"/>
<text x="282.50" y="321.8" font-size="13" text-anchor="middle">6</text>
<line x1="320.50" y1="299.5" x2="320.50" y2="304.2" stroke="#505050" stroke-width="1"/>
<text x="320.50" y="321.8" font-size="13" text-anchor="middle">7</text>
<line x1="358.50" y1="299.5" x2="358.50" y2="304.2" stroke="#505050" stroke-width="1"/>
<text x="358.50" y="321.8" font-size="13" text-anchor="middle">8</text>
<line x1="396.50" y1="299.5" x2="396.50" y2="304.2" stroke="#505050" stroke-width="1"/>
<text x="396.50" y="321.8" font-size="13" text-anchor="middle">9</text>
<line x1="434.50" y1="299.5" x2="434.50" y2="304.2" stroke="#505050" stroke-width="1"/>
<text x="434.50" y="321.8" font-size="13" text-anchor="middle"><tspan class="h">1</tspan>0</text>
<g class="one"><path transform="translate(427.266,321.800) scale(0.00635,-0.00635)" d="M763,0L583,0L583,1102C525,1049 455,999 375,958C310,924 260,905 223,895L223,1062C300,1097 390,1152 470,1217C560,1290 630,1357 661,1409L763,1409Z"/></g>
<line x1="472.50" y1="299.5" x2="472.50" y2="304.2" stroke="#505050" stroke-width="1"/>
<text x="472.50" y="321.8" font-size="13" text-anchor="middle"><tspan class="h">1</tspan><tspan class="h">1</tspan></text>
<g class="one"><path transform="translate(465.266,321.800) scale(0.00635,-0.00635)" d="M763,0L583,0L583,1102C525,1049 455,999 375,958C310,924 260,905 223,895L223,1062C300,1097 390,1152 470,1217C560,1290 630,1357 661,1409L763,1409Z"/><path transform="translate(472.484,321.800) scale(0.00635,-0.00635)" d="M763,0L583,0L583,1102C525,1049 455,999 375,958C310,924 260,905 223,895L223,1062C300,1097 390,1152 470,1217C560,1290 630,1357 661,1409L763,1409Z"/></g>
<line x1="510.50" y1="299.5" x2="510.50" y2="304.2" stroke="#505050" stroke-width="1"/>
<text x="510.50" y="321.8" font-size="13" text-anchor="middle"><tspan class="h">1</tspan>2</text>
<g class="one"><path transform="translate(503.266,321.800) scale(0.00635,-0.00635)" d="M763,0L583,0L583,1102C525,1049 455,999 375,958C310,924 260,905 223,895L223,1062C300,1097 390,1152 470,1217C560,1290 630,1357 661,1409L763,1409Z"/></g>
<text x="238.3" y="337.4" font-size="14.6">Age (Years)</text>
<text transform="translate(13.6,246.2) rotate(-90)" font-size="14.55">Number of Patients (N = <tspan class="h">1</tspan><tspan class="h">1</tspan>0)</text>
<g class="one" transform="translate(13.6,246.2) rotate(-90)"><path transform="translate(160.484,0.000) scale(0.00710,-0.00710)" d="M763,0L583,0L583,1102C525,1049 455,999 375,958C310,924 260,905 223,895L223,1062C300,1097 390,1152 470,1217C560,1290 630,1357 661,1409L763,1409Z"/><path transform="translate(168.562,0.000) scale(0.00710,-0.00710)" d="M763,0L583,0L583,1102C525,1049 455,999 375,958C310,924 260,905 223,895L223,1062C300,1097 390,1152 470,1217C560,1290 630,1357 661,1409L763,1409Z"/></g>
<text x="376" y="40.9" font-size="13">Girls</text>
<text x="376.3" y="64.3" font-size="13">Boys</text>
<rect x="417.5" y="31.5" width="32" height="8" fill="none" stroke="#505050" stroke-width="1"/>
<rect x="419.5" y="54.5" width="32" height="9" fill="none" stroke="#505050" stroke-width="1"/>
</g>
</svg></body></html>
